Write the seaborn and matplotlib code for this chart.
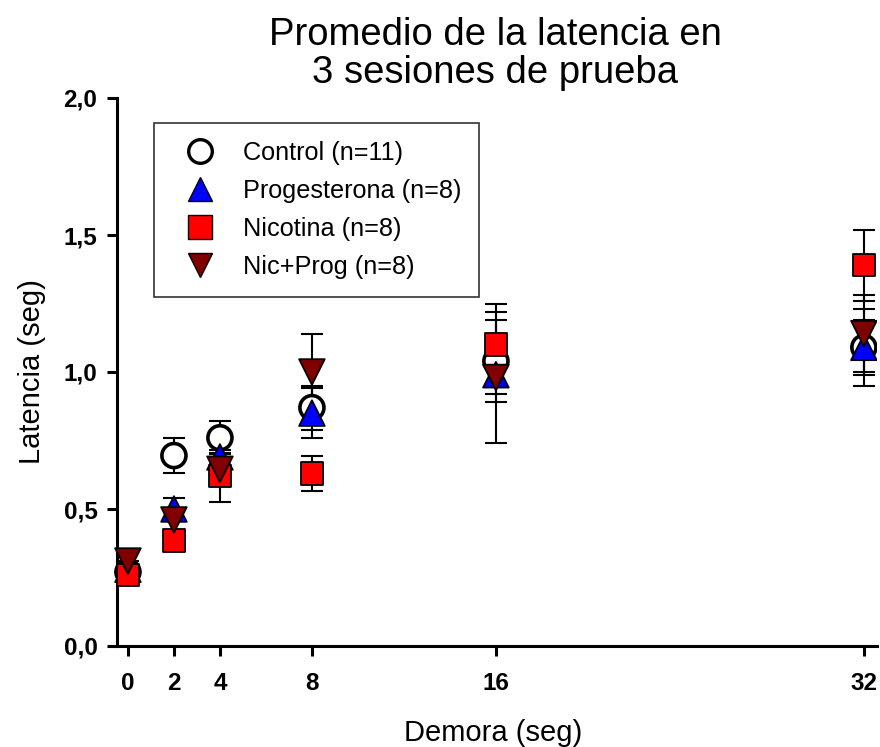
import matplotlib
matplotlib.use("Agg")
import matplotlib.pyplot as plt
from matplotlib.lines import Line2D
import seaborn as sns
import pandas as pd

delays = [0, 2, 4, 8, 16, 32]
groups = ["Control (n=11)", "Progesterona (n=8)", "Nicotina (n=8)", "Nic+Prog (n=8)"]
control = [0.27, 0.695, 0.76, 0.87, 1.04, 1.09]
control_err = [0.03, 0.065, 0.06, 0.08, 0.15, 0.14]
proges = [0.28, 0.50, 0.69, 0.85, 0.99, 1.09]
proges_err = [0.03, 0.04, 0.05, 0.09, 0.07, 0.10]
nicot = [0.26, 0.385, 0.62, 0.63, 1.10, 1.39]
nicot_err = [0.03, 0.03, 0.095, 0.065, 0.15, 0.13]
nicprog = [0.31, 0.46, 0.645, 1.00, 0.98, 1.14]
nicprog_err = [0.03, 0.04, 0.06, 0.14, 0.24, 0.14]
yticks = [0.0, 0.5, 1.0, 1.5, 2.0]
ytick_labels = ["0,0", "0,5", "1,0", "1,5", "2,0"]

sns.set_style("ticks")
plt.rcParams["font.family"] = ["Liberation Sans", "DejaVu Sans"]
for k in ["text.color", "axes.labelcolor", "xtick.color", "ytick.color", "axes.edgecolor"]:
    plt.rcParams[k] = "black"

means = [control, proges, nicot, nicprog]
errs = [control_err, proges_err, nicot_err, nicprog_err]
rows = []
for g, m, e in zip(groups, means, errs):
    for d, v, s in zip(delays, m, e):
        rows.append({"Demora": d, "Latencia": v, "err": s, "Grupo": g})
df = pd.DataFrame(rows)

fig = plt.figure(figsize=(8.8, 7.47), dpi=100)
ax = fig.add_axes([110 / 880, 1 - 646 / 747, (877 - 110) / 880, (646 - 98) / 747])

# error bars behind the markers
for g in groups:
    sub = df[df["Grupo"] == g]
    ax.errorbar(sub["Demora"], sub["Latencia"], yerr=sub["err"], fmt="none",
                ecolor="black", elinewidth=1.5, capsize=8, capthick=1.5, zorder=1)

palette = {groups[0]: "white", groups[1]: "#0000FF", groups[2]: "#FF0000", groups[3]: "#800000"}
markers = {groups[0]: "o", groups[1]: "^", groups[2]: "s", groups[3]: "v"}
sizes = {groups[0]: 300, groups[1]: 340, groups[2]: 260, groups[3]: 340}
n_before = len(ax.collections)
sns.scatterplot(data=df, x="Demora", y="Latencia", hue="Grupo", style="Grupo", size="Grupo",
                hue_order=groups, style_order=groups, size_order=groups,
                palette=palette, markers=markers, sizes=sizes,
                edgecolor="black", linewidth=1.3, ax=ax, zorder=3, legend=False)
scat = ax.collections[n_before]
scat.set_linewidths([2.6 if g == groups[0] else 1.3 for g in df["Grupo"]])

ax.set_xlim(-0.78, 32.57)
ax.set_ylim(0, 2.0)
ax.spines["left"].set_position(("data", -0.48))
ax.spines["top"].set_visible(False)
ax.spines["right"].set_visible(False)
for sp in ["left", "bottom"]:
    ax.spines[sp].set_linewidth(2.2)
ax.set_xticks(delays)
ax.set_xticklabels([str(d) for d in delays], fontsize=17.5, fontweight="bold",
                   family=["Liberation Sans Narrow", "Liberation Sans"])
ax.set_yticks(yticks)
ax.set_yticklabels(ytick_labels, fontsize=17.5, fontweight="bold")
ax.tick_params(axis="both", width=2.2, length=7, direction="out", pad=7)
ax.tick_params(axis="x", pad=12)
ax.set_xlabel("Demora (seg)", fontsize=21, labelpad=17)
ax.set_ylabel("Latencia (seg)", fontsize=21, labelpad=13)

handles = [Line2D([], [], linestyle="none", marker=markers[g], markersize=17,
                  markerfacecolor=palette[g], markeredgecolor="black",
                  markeredgewidth=2.4 if g == groups[0] else 1.0) for g in groups]
leg = ax.legend(handles, groups, loc="upper left", bbox_to_anchor=(0.057, 0.955),
                fontsize=18.2, frameon=True, fancybox=False, edgecolor="black",
                borderpad=0.72, handletextpad=0.55, labelspacing=0.55, borderaxespad=0,
                handlelength=2.25)
leg.get_frame().set_linewidth(1.2)

fig.text(495 / 880, 1 - 54 / 747, "Promedio de la latencia en\n3 sesiones de prueba",
         ha="center", va="center", fontsize=27.5, linespacing=1.05)

fig.savefig("out.png", dpi=100)
